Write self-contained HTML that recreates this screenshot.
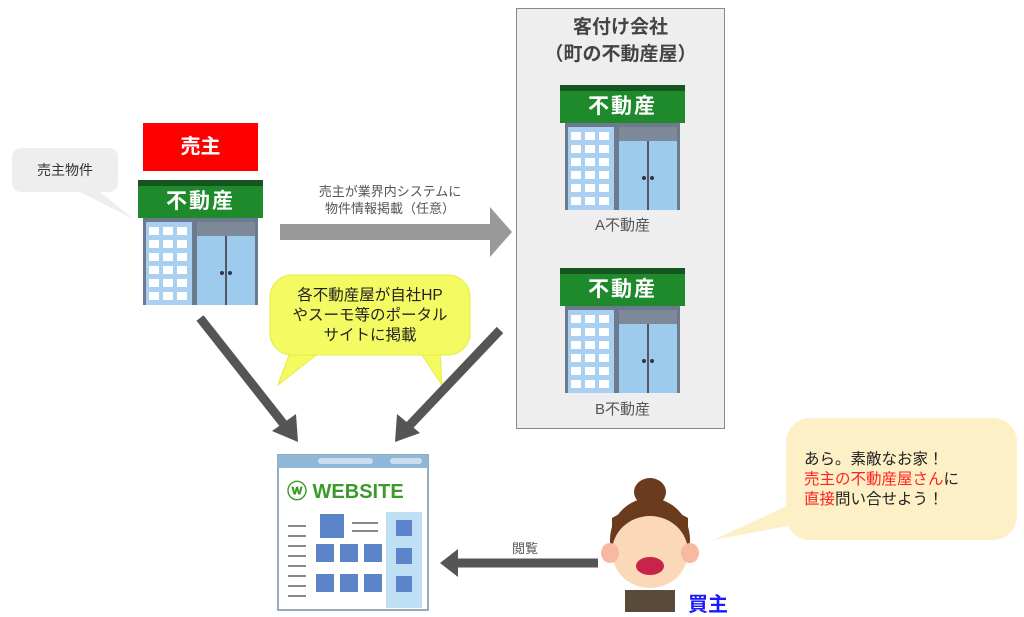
<!DOCTYPE html>
<html><head><meta charset="utf-8"><style>
body{margin:0;width:1024px;height:617px;background:#fff;position:relative;overflow:hidden;font-family:"Liberation Sans","Noto Sans CJK JP",sans-serif}
.a{position:absolute}
.sign{position:absolute;width:125px;height:38px;background:#1f8a2c;border-top:6px solid #16551f;box-sizing:border-box;color:#fff;font-weight:bold;font-size:21px;text-align:center;line-height:32px;letter-spacing:2px}
</style></head><body>
<div class="a" style="left:516px;top:8px;width:207px;height:419px;background:#eee;border:1.5px solid #888"></div>
<div class="a" style="left:516px;top:14px;width:209px;text-align:center;font-size:19px;font-weight:bold;color:#444;line-height:27px">客付け会社<br>（町の不動産屋）</div>

<svg class="a" style="left:0;top:0" width="1024" height="617">
<defs>
<g id="bd">
<rect x="5" y="38" width="115" height="87" fill="#6b7a8c"/>
<rect x="8" y="42" width="46" height="83" fill="#a9d0f0"/>
<g fill="#fff">
<rect x="11" y="47" width="10" height="8"/><rect x="25" y="47" width="10" height="8"/><rect x="39" y="47" width="10" height="8"/>
<rect x="11" y="60" width="10" height="8"/><rect x="25" y="60" width="10" height="8"/><rect x="39" y="60" width="10" height="8"/>
<rect x="11" y="73" width="10" height="8"/><rect x="25" y="73" width="10" height="8"/><rect x="39" y="73" width="10" height="8"/>
<rect x="11" y="86" width="10" height="8"/><rect x="25" y="86" width="10" height="8"/><rect x="39" y="86" width="10" height="8"/>
<rect x="11" y="99" width="10" height="8"/><rect x="25" y="99" width="10" height="8"/><rect x="39" y="99" width="10" height="8"/>
<rect x="11" y="112" width="10" height="8"/><rect x="25" y="112" width="10" height="8"/><rect x="39" y="112" width="10" height="8"/>
</g>
<rect x="59" y="42" width="58" height="14" fill="#7d8898"/>
<rect x="59" y="56" width="58" height="69" fill="#9ccbee"/>
<line x1="88" y1="56" x2="88" y2="125" stroke="#556" stroke-width="2"/>
<circle cx="84" cy="93" r="2" fill="#334"/><circle cx="92" cy="93" r="2" fill="#334"/>
</g>
</defs>
<use href="#bd" x="138" y="180"/>
<use href="#bd" x="560" y="85"/>
<use href="#bd" x="560" y="268"/>
<path d="M22,148 H108 Q118,148 118,158 V182 Q118,192 108,192 H100 L135,220 L80,192 H22 Q12,192 12,182 V158 Q12,148 22,148Z" fill="#eee"/>
<polygon points="280,224 490,224 490,207 512,232 490,257 490,240 280,240" fill="#999"/>
<path d="M290,352 L278,385 L320,352 Z M420,352 L442,385 L440,352 Z" fill="#f4fb62" stroke="#e6ec40"/>
<rect x="270" y="275" width="200" height="80" rx="22" fill="#f4fb62" stroke="#e6ec40"/>
<rect x="290" y="350" width="160" height="4" fill="#f4fb62"/>
<g stroke="#555" stroke-width="9" fill="#555">
<line x1="200" y1="318" x2="286" y2="427"/>
<line x1="500" y1="330" x2="408" y2="427"/>
<line x1="598" y1="563" x2="456" y2="563"/>
</g>
<polygon points="298,442 272,431 296,414" fill="#555"/>
<polygon points="395,442 397,414 420,433" fill="#555"/>
<polygon points="440,563 458,549 458,577" fill="#555"/>
<polygon points="800,500 713,540 820,520" fill="#fdefc6"/>
<rect x="786" y="418" width="231" height="122" rx="24" fill="#fdefc6"/>
<rect x="278" y="455" width="150" height="155" fill="#fff" stroke="#9ab" stroke-width="2"/>
<rect x="278" y="455" width="150" height="13" fill="#8fb8d8"/>
<rect x="318" y="458" width="55" height="6" rx="3" fill="#cde"/>
<rect x="390" y="458" width="32" height="6" rx="3" fill="#cde"/>
<text x="287" y="498" font-family="Liberation Sans,sans-serif" font-weight="bold" font-size="20" fill="#3a9a2a">ⓦ WEBSITE</text>
<rect x="386" y="512" width="36" height="96" fill="#bfe0f4"/>
<g fill="#5b85c8">
<rect x="320" y="514" width="24" height="24"/>
<rect x="316" y="544" width="18" height="18"/><rect x="340" y="544" width="18" height="18"/><rect x="364" y="544" width="18" height="18"/>
<rect x="316" y="574" width="18" height="18"/><rect x="340" y="574" width="18" height="18"/><rect x="364" y="574" width="18" height="18"/>
<rect x="396" y="520" width="16" height="16"/><rect x="396" y="548" width="16" height="16"/><rect x="396" y="576" width="16" height="16"/>
</g>
<g fill="#888"><rect x="288" y="525" width="18" height="2"/><rect x="288" y="535" width="18" height="2"/><rect x="288" y="545" width="18" height="2"/><rect x="288" y="555" width="18" height="2"/><rect x="288" y="565" width="18" height="2"/><rect x="288" y="575" width="18" height="2"/><rect x="288" y="585" width="18" height="2"/><rect x="288" y="595" width="18" height="2"/><rect x="352" y="522" width="26" height="2"/><rect x="352" y="530" width="26" height="2"/></g>
<ellipse cx="650" cy="492" rx="16" ry="14" fill="#6b3b1d"/>
<ellipse cx="650" cy="540" rx="40" ry="42" fill="#6b3b1d"/>
<rect x="625" y="590" width="50" height="22" fill="#5a4a3a"/>
<ellipse cx="650" cy="552" rx="38" ry="36" fill="#fbd8b8"/>
<ellipse cx="610" cy="553" rx="9" ry="10" fill="#f9b8a0"/><ellipse cx="690" cy="553" rx="9" ry="10" fill="#f9b8a0"/>
<path d="M612,530 Q650,500 688,530 L688,518 Q650,495 612,518Z" fill="#6b3b1d"/>
<ellipse cx="650" cy="566" rx="14" ry="9" fill="#c8244a"/>
</svg>
<div class="sign" style="left:138px;top:180px">不動産</div>
<div class="sign" style="left:560px;top:85px">不動産</div>
<div class="sign" style="left:560px;top:268px">不動産</div>
<div class="a" style="left:12px;top:160px;width:106px;text-align:center;font-size:14px;color:#333">売主物件</div>
<div class="a" style="left:143px;top:123px;width:115px;height:48px;background:#f00;color:#fff;font-weight:bold;font-size:20px;text-align:center;line-height:48px">売主</div>
<div class="a" style="left:290px;top:183px;width:200px;text-align:center;font-size:13px;color:#555;line-height:17px">売主が業界内システムに<br>物件情報掲載（任意）</div>
<div class="a" style="left:270px;top:286px;width:200px;text-align:center;font-size:15.5px;color:#222;line-height:20px">各不動産屋が自社HP<br>やスーモ等のポータル<br>サイトに掲載</div>
<div class="a" style="left:560px;top:214px;width:125px;text-align:center;font-size:15px;color:#555">A不動産</div>
<div class="a" style="left:560px;top:398px;width:125px;text-align:center;font-size:15px;color:#555">B不動産</div>
<div class="a" style="left:500px;top:538px;width:50px;text-align:center;font-size:13px;color:#555">閲覧</div>
<div class="a" style="left:688px;top:588px;font-size:20px;font-weight:bold;color:#1a1aff">買主</div>
<div class="a" style="left:804px;top:450px;font-size:15.5px;color:#222;line-height:20px">あら。素敵なお家！<br><span style="color:#f22">売主の不動産屋さん</span>に<br><span style="color:#f22">直接</span>問い合せよう！</div>
</body></html>
